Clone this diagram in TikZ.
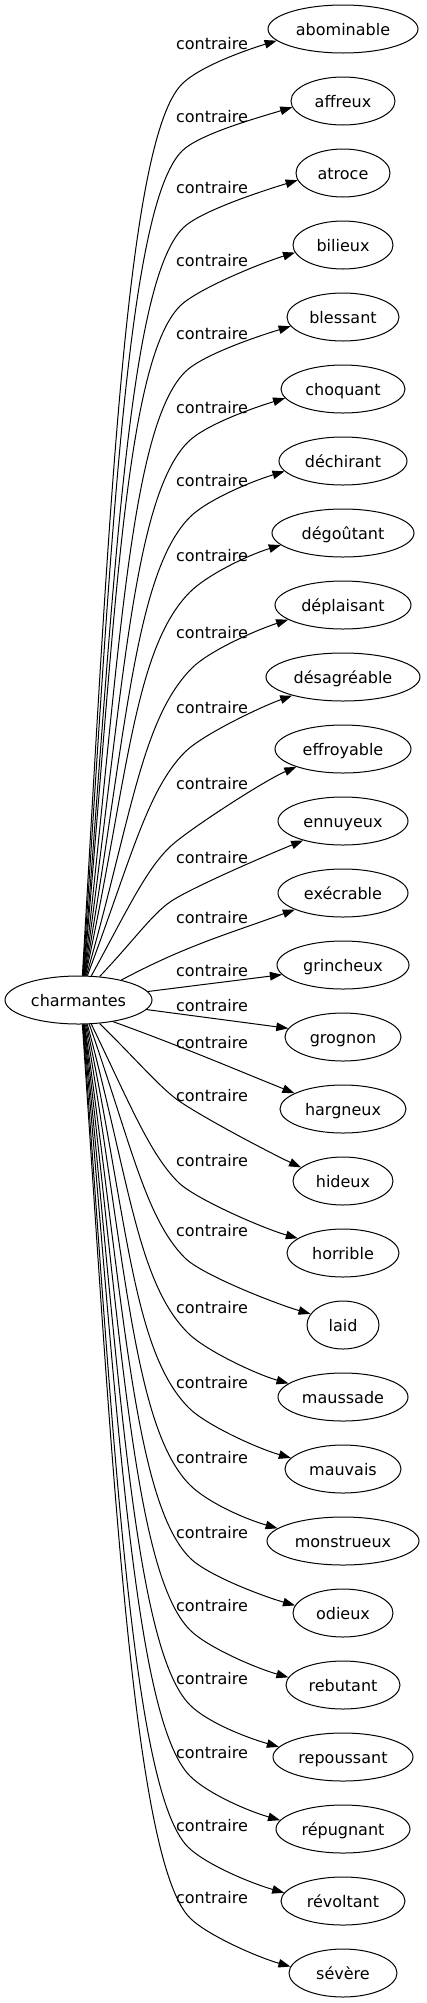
\documentclass[tikz,border=0pt]{standalone}
\usepackage{fontspec}
\setmainfont{DejaVu Sans}
\usetikzlibrary{shapes.geometric,arrows.meta,calc}
\tikzset{
  word/.style={ellipse, draw, line width=1pt, minimum height=48pt, inner sep=0pt,
    font=\fontsize{16}{19}\selectfont, text height=15pt, text depth=3pt},
  lab/.style={inner sep=0pt, font=\fontsize{16}{19}\selectfont, text height=15pt, text depth=3pt},
  edge/.style={line width=1pt, -{Triangle[length=12pt,width=8.5pt]}},
}
% #1 target, #2 start anchor, #3 Kx, #4 Ky, #5 travel angle at K, #6 end anchor, #7 in angle at end, #8 start correction
\newcommand\cedge[8]{%
  \draw[edge] let \p1=(c.#2), \p2=(#3,-#4),
    \n1={atan2(\y2-\y1,\x2-\x1)+#8}, \n2={veclen(\x2-\x1,\y2-\y1)},
    \n3={0.5*\n2}, \n4={min(80,0.22*\n2)}, \n5={#5+180} in
    (c.#2) to[out=\n1, in=\n5, out distance=\n3, in distance=\n4] (\p2)
    to[out=#5, in=#7, out distance=24pt, in distance=35pt] (#1.#6);
}
\begin{document}
\begin{tikzpicture}[x=1pt,y=1pt]
\useasboundingbox (0,0) rectangle (426,-2003);
\node[word, minimum width=147pt] (c) at (78.5,-1000) {charmantes};
\foreach \t/\w [count=\i] in {abominable/150,affreux/104,atroce/94,bilieux/100,blessant/112,
  choquant/124,déchirant/128,dégoûtant/142,déplaisant/136,désagréable/154,effroyable/136,
  ennuyeux/130,exécrable/130,grincheux/132,grognon/116,hargneux/126,hideux/100,horrible/112,
  laid/72,maussade/130,mauvais/116,monstrueux/152,odieux/100,rebutant/114,repoussant/140,
  répugnant/134,révoltant/124,sévère/108}
  \node[word, minimum width=\w pt] (n\i) at (343,{-29-72*(\i-1)}) {\t};
\foreach \y [count=\i] in {43,116,187,260,333,407,480,555,632,707,783,857,917,970,1005,1042,
  1095,1160,1230,1307,1382,1457,1532,1605,1678,1752,1825,1897}
  \node[lab] (l\i) at (212,-\y) {contraire};
\cedge{n1}{81}{182}{84}{45}{190}{197}{3}
\cedge{n2}{80}{182}{151}{45}{187}{197}{3}
\cedge{n3}{79}{183}{228}{45}{189}{197}{3}
\cedge{n4}{78}{180}{306}{45}{189}{197}{3}
\cedge{n5}{77}{185}{372}{45}{190}{197}{3}
\cedge{n6}{76}{188}{442}{45}{189}{197}{3}
\cedge{n7}{75}{190}{517}{45}{190}{197}{3}
\cedge{n8}{74}{190}{592}{45}{191}{197}{3}
\cedge{n9}{72}{192}{668}{45}{195}{198}{3}
\cedge{n10}{70}{185}{752}{45}{200}{200}{3}
\cedge{n11}{62}{172}{845}{42}{201}{203}{3}
\cedge{n12}{48}{170}{902}{35}{206}{202}{0}
\draw[edge] (c.25) to[out=28,in=200] (n13.199);
\draw[edge] (c.7) -- (n14.189);
\draw[edge] (c.352) -- (n15.171);
\draw[edge] (c.328) to[out=-20,in=158] (n16.162);
\cedge{n17}{312}{175}{1098}{-38}{162}{155}{0}
\cedge{n18}{298}{178}{1182}{-45}{162}{164}{-3}
\cedge{n19}{294}{185}{1258}{-45}{161}{164}{-3}
\cedge{n20}{290}{188}{1333}{-45}{166}{164}{-3}
\cedge{n21}{288}{189}{1408}{-45}{168}{164}{-3}
\cedge{n22}{286}{190}{1485}{-45}{169}{164}{-3}
\cedge{n23}{284}{190}{1558}{-45}{171}{164}{-3}
\cedge{n24}{283}{190}{1630}{-45}{172}{164}{-3}
\cedge{n25}{282}{190}{1705}{-45}{171}{164}{-3}
\cedge{n26}{281}{190}{1776}{-45}{172}{164}{-3}
\cedge{n27}{280}{188}{1847}{-45}{172}{164}{-3}
\cedge{n28}{279}{190}{1918}{-45}{173}{164}{-3}
\end{tikzpicture}
\end{document}
